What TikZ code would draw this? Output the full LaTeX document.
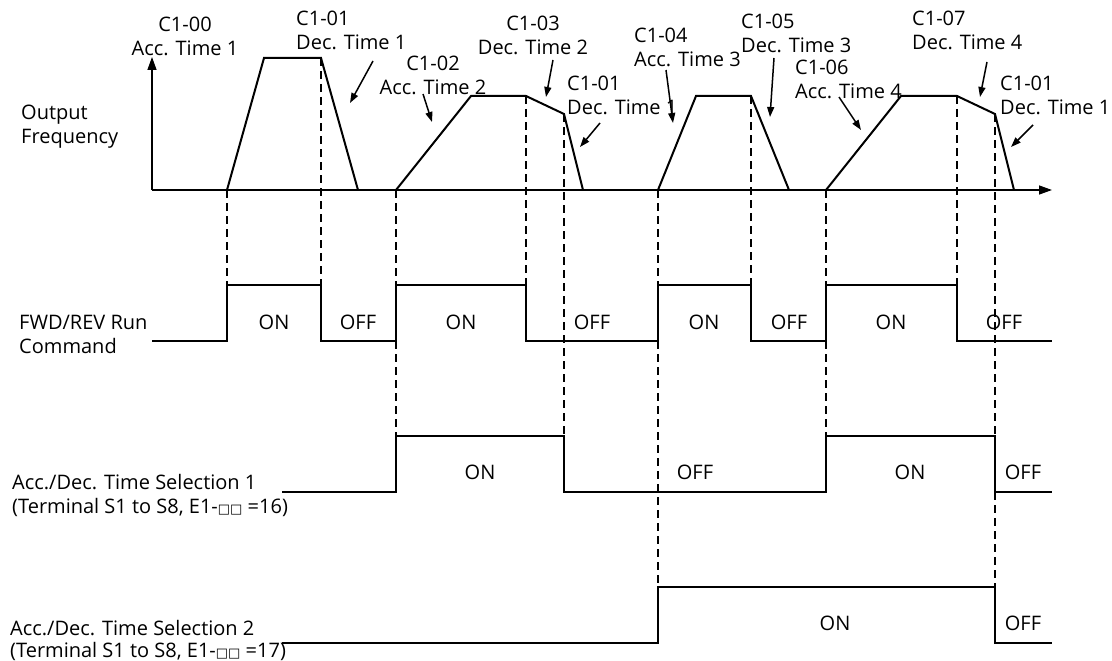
\documentclass[tikz,border=0pt]{standalone}
\usepackage{fontspec}
\setmainfont{Open Sans}
\newfontfamily\boxfont{DejaVu Sans}
\usetikzlibrary{arrows.meta}
\newcommand{\bx}{{\boxfont\fontsize{13}{13}\selectfont □□}}
\begin{document}
\begin{tikzpicture}[x=1pt,y=-1pt,
  lbl/.style={inner sep=0pt, font=\fontsize{20}{24}\selectfont},
  lblL/.style={lbl, align=left, anchor=north west},
  lblC/.style={lbl, align=center, anchor=north},
  trace/.style={line width=2pt, line join=miter},
  sig/.style={line width=1.8pt, line join=miter},
  axisline/.style={line width=1.3pt, -{Triangle[length=13pt,width=9pt]}},
  guide/.style={line width=1.1pt, dash pattern=on 8pt off 5pt},
  ann/.style={line width=1.5pt, -{Triangle[length=10pt,width=7pt]}}
]
\useasboundingbox (0,0) rectangle (1112,661);

% ---------- axes ----------
\coordinate (O) at (152,190);
\coordinate (Xend) at (1052,190);
\coordinate (Yend) at (152,57);
\draw[axisline] (O) -- (Xend);
\draw[axisline] (O) -- (Yend);

% ---------- guide lines ----------
\draw[guide] (227,190) -- (227,285);
\draw[guide] (321,58) -- (321,285);
\draw[guide] (396,190) -- (396,285) (396,341) -- (396,436);
\draw[guide] (526,96) -- (526,285);
\draw[guide] (564,114) -- (564,436);
\draw[guide] (658,190) -- (658,285) (658,341) -- (658,587);
\draw[guide] (751,96) -- (751,285);
\draw[guide] (826,190) -- (826,285) (826,341) -- (826,436);
\draw[guide] (957,96) -- (957,285);
\draw[guide] (995,114) -- (995,436) (995,492) -- (995,587);

% ---------- frequency traces ----------
\draw[trace] (227,190) -- (264,58) -- (321,58) -- (358,190);
\draw[trace] (396,190) -- (471,96) -- (526,96) -- (564,114) -- (583,190);
\draw[trace] (658,190) -- (696,96) -- (751,96) -- (789,190);
\draw[trace] (826,190) -- (901,96) -- (957,96) -- (995,114) -- (1014,190);

% ---------- run command ----------
\draw[sig] (152,341) -- (227,341) -- (227,285) -- (321,285) -- (321,341)
  -- (396,341) -- (396,285) -- (526,285) -- (526,341) -- (658,341)
  -- (658,285) -- (751,285) -- (751,341) -- (826,341) -- (826,285)
  -- (957,285) -- (957,341) -- (1052,341);

% ---------- selection 1 ----------
\draw[sig] (282,492) -- (396,492) -- (396,436) -- (564,436) -- (564,492)
  -- (826,492) -- (826,436) -- (995,436) -- (995,492) -- (1052,492);

% ---------- selection 2 ----------
\draw[sig] (282,643) -- (658,643) -- (658,587) -- (995,587) -- (995,643) -- (1052,643);

% ---------- left labels ----------
\node[lblL] (lOut) at (21,105) {Output\\Frequency};
\node[lblL] (lRun) at (19,315) {FWD/REV Run\\Command};
\node[lblL] (lS1) at (12,474) {Acc./Dec. Time Selection 1\\(Terminal S1 to S8, E1-\bx\ =16)};
\node[lblL, font=\fontsize{20}{22}\selectfont] (lS2) at (10,620) {Acc./Dec. Time Selection 2\\(Terminal S1 to S8, E1-\bx\ =17)};

% ---------- top labels ----------
\node[lblC] (t0) at (185,17) {C1-00\\Acc. Time 1};
\node[lblL] (t1) at (296,11) {C1-01\\Dec. Time 1};
\node[lblC] (t2) at (433,56) {C1-02\\Acc. Time 2};
\node[lblC] (t3) at (533,16) {C1-03\\Dec. Time 2};
\node[lblL] (t4) at (567,76) {C1-01\\Dec. Time 1};
\node[lblL] (t5) at (634,28) {C1-04\\Acc. Time 3};
\node[lblL] (t6) at (741,14) {C1-05\\Dec. Time 3};
\node[lblL] (t7) at (795,60) {C1-06\\Acc. Time 4};
\node[lblL] (t8) at (912,11) {C1-07\\Dec. Time 4};
\node[lblL] (t9) at (1000,76) {C1-01\\Dec. Time 1};

% ---------- annotation arrows ----------
\coordinate (a1s) at (373,61);  \coordinate (a1e) at (350,103);
\coordinate (a2s) at (423,94);  \coordinate (a2e) at (432,122);
\coordinate (a3s) at (553,60);  \coordinate (a3e) at (546,97);
\coordinate (a4s) at (600,123); \coordinate (a4e) at (580,147);
\coordinate (a5s) at (666,70);  \coordinate (a5e) at (673,123);
\coordinate (a6s) at (774,58);  \coordinate (a6e) at (770,117);
\coordinate (a7s) at (839,97);  \coordinate (a7e) at (861,130);
\coordinate (a8s) at (987,62);  \coordinate (a8e) at (980,97);
\coordinate (a9s) at (1033,125); \coordinate (a9e) at (1011,147);
\foreach \i in {1,...,9} \draw[ann] (a\i s) -- (a\i e);

% ---------- state labels ----------
\node[lbl] (r1) at (274,322) {ON};
\node[lbl] (r2) at (358,322) {OFF};
\node[lbl] (r3) at (461,322) {ON};
\node[lbl] (r4) at (592,322) {OFF};
\node[lbl] (r5) at (704,322) {ON};
\node[lbl] (r6) at (789,322) {OFF};
\node[lbl] (r7) at (891,322) {ON};
\node[lbl] (r8) at (1004,322) {OFF};
\node[lbl] (s1) at (480,472) {ON};
\node[lbl] (s2) at (695,472) {OFF};
\node[lbl] (s3) at (910,472) {ON};
\node[lbl] (s4) at (1023,472) {OFF};
\node[lbl] (u1) at (835,623) {ON};
\node[lbl] (u2) at (1023,623) {OFF};
\end{tikzpicture}
\end{document}
